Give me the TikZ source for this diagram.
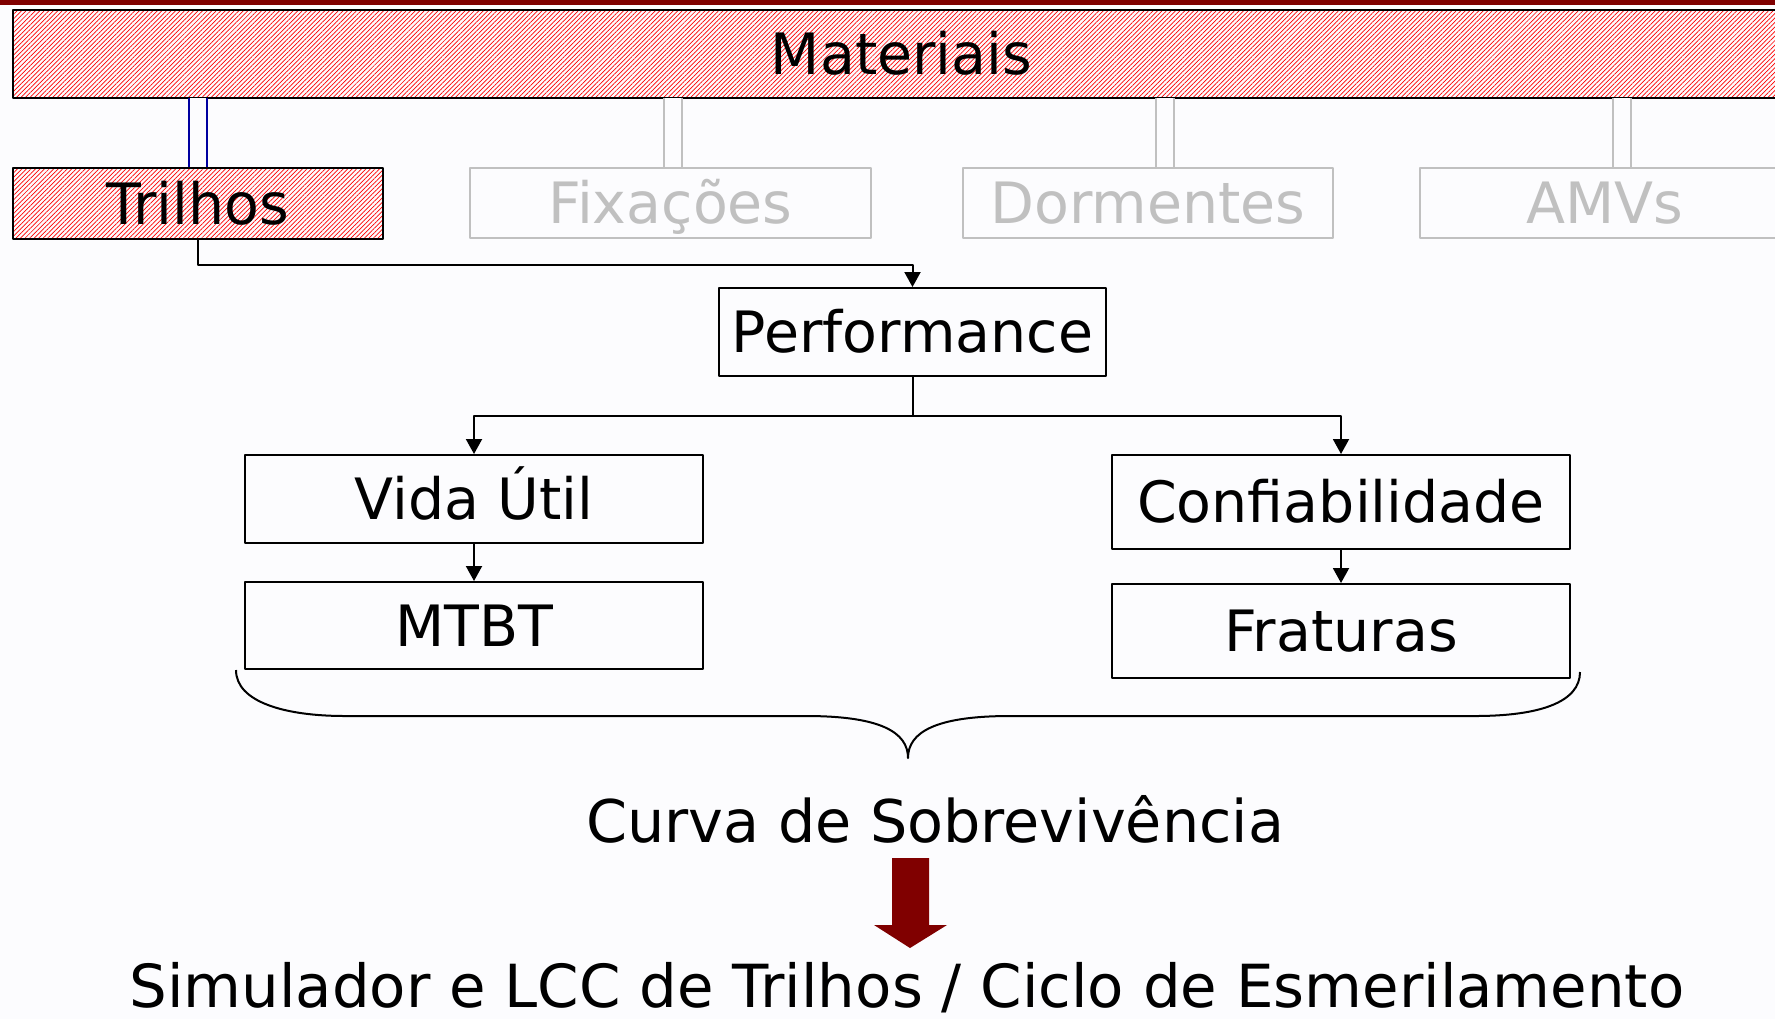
\documentclass[tikz,border=0pt]{standalone}
\usepackage{fontspec}
\setmainfont{DejaVu Sans}
\usetikzlibrary{arrows.meta,patterns.meta}
\definecolor{vinho}{RGB}{128,0,0}
\definecolor{cinza}{RGB}{192,192,192}
\definecolor{azul}{RGB}{0,0,160}
\definecolor{fundo}{RGB}{252,252,254}
\tikzset{
	caixa/.style={draw, line width=1pt, text height=20.5pt, text depth=0pt, inner sep=0pt},
	hachura/.style={caixa, pattern={Lines[angle=45,distance=1.6pt,line width=0.35pt]}, pattern color=red},
	apagada/.style={caixa, draw=cinza, text=cinza},
	ligacao/.style={line width=1pt, double=fundo, double distance=8pt},
}
\begin{document}
\begin{tikzpicture}[x=0.5pt, y=-0.5pt, >={Triangle[width=8pt,length=7.5pt]}, line width=1pt, font=\fontsize{28.5}{34}\selectfont, line join=round]
		\fill[fundo] (0,0) rectangle (1775,1019);
		\clip (0,0) rectangle (1775,1019);
		\fill[vinho] (0,0) rectangle (1775,5);
		% materiais e componentes
		\node[hachura, minimum width=888.5pt, minimum height=44pt] (mat) at (901.5,54) {Materiais};
		\node[hachura, minimum width=185pt, minimum height=35.5pt] (tri) at (198,203.5) {Trilhos};
		\node[apagada, minimum width=200.5pt, minimum height=35pt] (fix) at (670.5,203) {Fixações};
		\node[apagada, minimum width=185pt, minimum height=35pt] (dor) at (1148,203) {Dormentes};
		\node[apagada, minimum width=185pt, minimum height=35pt] (amv) at (1605,203) {AMVs};
		\draw[ligacao, draw=azul] (tri.north) -- (tri.north |- mat.south);
		\draw[ligacao, draw=cinza] ([xshift=1pt]fix.north) -- ([xshift=1pt]fix.north |- mat.south);
		\draw[ligacao, draw=cinza] ([xshift=8.5pt]dor.north) -- ([xshift=8.5pt]dor.north |- mat.south);
		\draw[ligacao, draw=cinza] ([xshift=8.5pt]amv.north) -- ([xshift=8.5pt]amv.north |- mat.south);
		% performance
		\node[caixa, minimum width=193.5pt, minimum height=44pt] (perf) at (912.5,332) {Performance};
		\node[caixa, minimum width=229pt, minimum height=44pt] (vida) at (474,499) {Vida Útil};
		\node[caixa, minimum width=229pt, minimum height=43.5pt] (mtbt) at (474,625.5) {MTBT};
		\node[caixa, minimum width=229pt, minimum height=47pt] (conf) at (1341,502) {Confiabilidade};
		\node[caixa, minimum width=229pt, minimum height=47pt] (frat) at (1341,631) {Fraturas};
		\draw[->] (tri.south) -- ++(0,25) -| (perf.north);
		\draw[->] (perf.south) -- ++(0,39) -| (vida.north);
		\draw[->] (perf.south) -- ++(0,39) -| (conf.north);
		\draw[->] (vida) -- (mtbt);
		\draw[->] (conf) -- (frat);
		% chave
		\draw (236,670) .. controls (236,702) and (285,716) .. (345,716) -- (806,716)
			.. controls (880,716) and (908,732) .. (908,758)
			.. controls (908,732) and (936,716) .. (1010,716) -- (1475,716)
			.. controls (1540,716) and (1580,702) .. (1580,672);
		\node[anchor=base, font=\fontsize{29.4}{34}\selectfont] (curva) at (935,842) {Curva de Sobrevivência};
		\fill[vinho] (892,858) -- (929,858) -- (929,925) -- (947,925) -- (910,948) -- (874,925) -- (892,925) -- cycle;
		\node[anchor=base, font=\fontsize{29.7}{34}\selectfont] (sim) at (907,1007) {Simulador e LCC de Trilhos / Ciclo de Esmerilamento};
		\end{tikzpicture}
\end{document}
